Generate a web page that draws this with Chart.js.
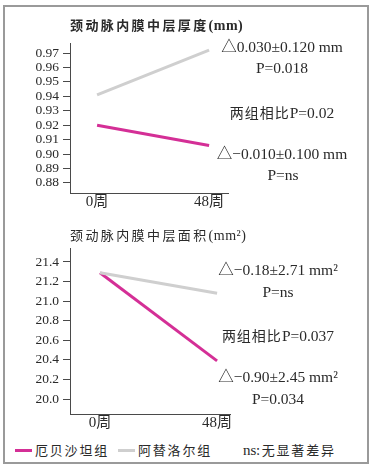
<!DOCTYPE html>
<html>
<head>
<meta charset="utf-8">
<script src="https://cdn.jsdelivr.net/npm/chart.js@4/dist/chart.umd.min.js"></script>
<style>
  html, body { margin:0; padding:0; background:#fff; }
  body { width:370px; height:468px; position:relative; overflow:hidden; }
  #frame { position:absolute; left:3px; top:5px; width:362px; height:455px; border:2px solid #9a9a9a; }
  canvas { position:absolute; left:0; }
  .t { position:absolute; white-space:nowrap; color:#2a2a2a; font-family:'Liberation Serif','Noto Sans CJK SC',serif; font-size:15.5px; line-height:18px; transform:translate(-50%,-50%); }
  .cn { font-family:'Noto Sans CJK SC',sans-serif; font-size:14px; letter-spacing:1px; }
  .title { position:absolute; white-space:nowrap; color:#2a2a2a; font-family:'Noto Sans CJK SC',sans-serif; font-size:13px; line-height:16px; letter-spacing:2.4px; transform:translateY(-50%); }
  .title .lat { font-family:'Liberation Serif',serif; font-size:14px; letter-spacing:0.5px; }
  .leg { position:absolute; top:450px; transform:translateY(-50%); white-space:nowrap; font-family:'Noto Sans CJK SC',sans-serif; font-size:13px; letter-spacing:1.8px; color:#2a2a2a; line-height:16px; }
  .sw { position:absolute; height:3px; top:449px; }
</style>
</head>
<body>
<div id="frame"></div>
<canvas id="c1" width="240" height="215" style="top:0px"></canvas>
<canvas id="c2" width="240" height="215" style="top:220px"></canvas>

<div class="title" style="left:70px; top:25px; font-weight:bold;">颈动脉内膜中层厚度<span class="lat">(mm)</span></div>
<div class="title" style="left:70px; top:235px;">颈动脉内膜中层面积<span class="lat">(mm²)</span></div>

<div class="t" style="left:282px; top:47px;">△0.030±0.120 mm</div>
<div class="t" style="left:282px; top:68px;">P=0.018</div>
<div class="t" style="left:282px; top:112px;"><span class="cn">两组相比</span>P=0.02</div>
<div class="t" style="left:282px; top:154px;">△−0.010±0.100 mm</div>
<div class="t" style="left:283px; top:175px;">P=ns</div>

<div class="t" style="left:278px; top:270px;">△−0.18±2.71 mm²</div>
<div class="t" style="left:278px; top:292px;">P=ns</div>
<div class="t" style="left:278px; top:335px;"><span class="cn">两组相比</span>P=0.037</div>
<div class="t" style="left:278px; top:377px;">△−0.90±2.45 mm²</div>
<div class="t" style="left:278px; top:399px;">P=0.034</div>

<div class="sw" style="left:15px; width:17px; background:#d42f96;"></div>
<div class="leg" style="left:35px;">厄贝沙坦组</div>
<div class="sw" style="left:118px; width:17px; background:#cfcfcf;"></div>
<div class="leg" style="left:138px;">阿替洛尔组</div>
<div class="leg" style="left:243px;"><span style="font-family:'Liberation Serif',serif;font-size:15px;letter-spacing:0">ns</span>:无显著差异</div>

<script>
// ---- data ----
const weeks = [0, 48];
const weekLabels = ['0周', '48周'];
const seriesNames = ['厄贝沙坦组', '阿替洛尔组'];
const imtIrbesartan = [0.920, 0.906];
const imtAtenolol = [0.941, 0.972];
const imtTicks = [0.88, 0.89, 0.90, 0.91, 0.92, 0.93, 0.94, 0.95, 0.96, 0.97];
const areaIrbesartan = [21.29, 20.39];
const areaAtenolol = [21.29, 21.08];
const areaTicks = [20.0, 20.2, 20.4, 20.6, 20.8, 21.0, 21.2, 21.4];

const MAGENTA = '#d42f96';
const GRAY = '#cfcfcf';
const AXIS = '#4a4a4a';
const FONT = "'Liberation Serif', 'Noto Sans CJK SC', serif";

function makeChart(id, irb, ate, yTicks, decimals, yMin, yMax, xMin, xMax, padTop, padRight, xAxisH) {
  const toPts = arr => arr.map((v, i) => ({x: weeks[i], y: v}));
  return new Chart(document.getElementById(id), {
    type: 'line',
    data: {
      datasets: [
        {label: seriesNames[1], data: toPts(ate), borderColor: GRAY, borderWidth: 3, pointRadius: 0, tension: 0},
        {label: seriesNames[0], data: toPts(irb), borderColor: MAGENTA, borderWidth: 3, pointRadius: 0, tension: 0}
      ]
    },
    options: {
      responsive: false,
      animation: false,
      devicePixelRatio: 1,
      layout: {padding: {top: padTop, right: padRight, left: 0, bottom: 0}},
      plugins: {legend: {display: false}, tooltip: {enabled: false}},
      scales: {
        x: {
          type: 'linear', min: xMin, max: xMax,
          afterBuildTicks: s => { s.ticks = weeks.map(v => ({value: v})); },
          afterFit: s => { s.height = xAxisH; },
          ticks: {
            callback: (v, i) => weekLabels[i],
            font: {family: FONT, size: 15}, color: '#2a2a2a', padding: 0, maxRotation: 0, autoSkip: false
          },
          grid: {display: false, drawTicks: false},
          border: {display: true, color: AXIS, width: 1}
        },
        y: {
          min: yMin, max: yMax,
          afterBuildTicks: s => { s.ticks = yTicks.map(v => ({value: v})); },
          afterFit: s => { s.width = 70; },
          ticks: {
            callback: v => Number(v).toFixed(decimals),
            font: {family: FONT, size: 13.5}, color: '#2a2a2a', padding: 4, autoSkip: false
          },
          grid: {display: true, drawOnChartArea: false, drawTicks: true, tickLength: 7, color: AXIS, lineWidth: 1},
          border: {display: true, color: AXIS, width: 1}
        }
      }
    }
  });
}

// x min/max place week 0 and week 48 inside the axis as in the reference
makeChart('c1', imtIrbesartan, imtAtenolol, imtTicks, 2, 0.873, 0.977, -11.6, 56.1, 43, 12, 22);
makeChart('c2', areaIrbesartan, areaAtenolol, areaTicks, 1, 19.847, 21.543, -12.3, 53.3, 28, 10, 21);
</script>
</body>
</html>
